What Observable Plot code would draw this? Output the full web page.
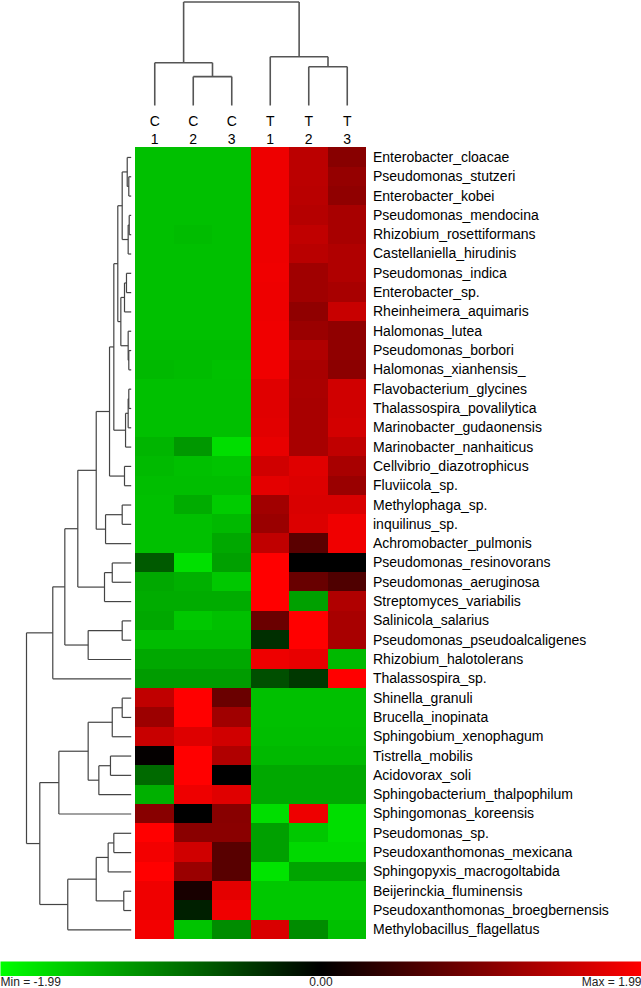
<!DOCTYPE html>
<html><head><meta charset="utf-8">
<script src="https://cdn.jsdelivr.net/npm/d3@7"></script>
<script src="https://cdn.jsdelivr.net/npm/@observablehq/plot@0.6"></script>
<style>
html,body{margin:0;padding:0;background:#fff;}
#chart{position:relative;width:641px;height:988px;overflow:hidden;font-family:"Liberation Sans",Arial,Helvetica,sans-serif;background:#fff;}
#chart svg{position:absolute;left:0;top:0;}
</style></head><body><div id="chart"></div>
<script>
// ---- data ----
const columns = ["C1","C2","C3","T1","T2","T3"];
const columnLabels = ["C\n1","C\n2","C\n3","T\n1","T\n2","T\n3"];
const taxa = ["Enterobacter_cloacae","Pseudomonas_stutzeri","Enterobacter_kobei","Pseudomonas_mendocina","Rhizobium_rosettiformans","Castellaniella_hirudinis","Pseudomonas_indica","Enterobacter_sp.","Rheinheimera_aquimaris","Halomonas_lutea","Pseudomonas_borbori","Halomonas_xianhensis_","Flavobacterium_glycines","Thalassospira_povalilytica","Marinobacter_gudaonensis","Marinobacter_nanhaiticus","Cellvibrio_diazotrophicus","Fluviicola_sp.","Methylophaga_sp.","inquilinus_sp.","Achromobacter_pulmonis","Pseudomonas_resinovorans","Pseudomonas_aeruginosa","Streptomyces_variabilis","Salinicola_salarius","Pseudomonas_pseudoalcaligenes","Rhizobium_halotolerans","Thalassospira_sp.","Shinella_granuli","Brucella_inopinata","Sphingobium_xenophagum","Tistrella_mobilis","Acidovorax_soli","Sphingobacterium_thalpophilum","Sphingomonas_koreensis","Pseudomonas_sp.","Pseudoxanthomonas_mexicana","Sphingopyxis_macrogoltabida","Beijerinckia_fluminensis","Pseudoxanthomonas_broegbernensis","Methylobacillus_flagellatus"];
const C1 = [-1.50,-1.50,-1.50,-1.50,-1.50,-1.50,-1.50,-1.50,-1.50,-1.50,-1.47,-1.44,-1.50,-1.50,-1.50,-1.41,-1.45,-1.48,-1.50,-1.50,-1.50,-0.70,-1.31,-1.34,-1.31,-1.47,-1.31,-1.22,1.50,1.22,1.56,0.03,-0.83,-1.37,1.06,1.99,1.90,1.99,1.87,1.86,1.90];
const C2 = [-1.50,-1.50,-1.50,-1.50,-1.47,-1.50,-1.50,-1.50,-1.50,-1.50,-1.47,-1.47,-1.50,-1.50,-1.50,-1.19,-1.50,-1.48,-1.34,-1.50,-1.50,-1.75,-1.37,-1.34,-1.56,-1.47,-1.31,-1.22,1.99,1.99,1.73,1.99,1.99,1.86,0.00,1.08,1.62,1.20,0.19,-0.25,-1.53];
const C3 = [-1.50,-1.50,-1.50,-1.50,-1.50,-1.50,-1.50,-1.50,-1.50,-1.50,-1.47,-1.51,-1.50,-1.50,-1.50,-1.73,-1.53,-1.48,-1.59,-1.44,-1.31,-1.25,-1.56,-1.34,-1.50,-1.47,-1.31,-1.22,0.83,1.25,1.62,1.37,0.00,1.75,1.06,1.08,0.69,0.69,1.78,1.87,-1.09];
const T1 = [1.86,1.86,1.86,1.86,1.86,1.86,1.87,1.86,1.86,1.87,1.87,1.87,1.75,1.75,1.76,1.81,1.62,1.78,1.26,1.20,1.50,1.99,1.99,1.99,0.83,-0.37,1.86,-0.62,-1.50,-1.50,-1.48,-1.44,-1.31,-1.31,-1.73,-1.25,-1.25,-1.78,-1.56,-1.56,1.69];
const T2 = [1.46,1.46,1.44,1.41,1.50,1.44,1.25,1.25,1.12,1.20,1.37,1.31,1.33,1.31,1.31,1.31,1.75,1.72,1.69,1.72,0.70,0.00,0.81,-1.25,1.99,1.99,1.81,-0.44,-1.50,-1.50,-1.48,-1.44,-1.31,-1.31,1.86,-1.56,-1.69,-1.28,-1.56,-1.56,-1.09];
const T3 = [1.06,1.16,1.12,1.31,1.31,1.37,1.37,1.31,1.56,1.12,1.12,1.09,1.62,1.62,1.65,1.50,1.31,1.20,1.69,1.87,1.87,0.00,0.62,1.37,1.31,1.31,-1.44,1.99,-1.50,-1.50,-1.48,-1.44,-1.31,-1.31,-1.73,-1.73,-1.69,-1.28,-1.56,-1.56,-1.50];
const series = {C1, C2, C3, T1, T2, T3};

// dendrogram merges: [node, childA, childB, height] (numbers = leaf index)
const rowMerges = [
  ["A",1,2,0.023],["B",0,"A",0.038],["C",3,4,0.019],["D","C",5,0.029],["E","B","D",0.086],
  ["F",6,7,0.045],["G","F",8,0.064],["H",10,11,0.023],["I",9,"H",0.029],["J","G","I",0.099],
  ["K","E","J",0.128],["L",12,13,0.023],["M","L",14,0.029],["N","M",15,0.054],["O","K","N",0.166],
  ["P",16,17,0.064],["Q","O","P",0.207],["R",18,19,0.086],["S","R",20,0.245],["T","Q","S",0.334],
  ["U",21,22,0.181],["V","U",23,0.255],["W","T","V",0.510],["X",24,25,0.086],["Y","X",26,0.411],
  ["Z","W","Y",0.634],["AA","Z",27,0.749],
  ["BB",28,29,0.086],["CC","BB",30,0.181],["DD",31,32,0.198],["EE","DD",33,0.309],["FF","CC","EE",0.411],
  ["GG","FF",34,0.691],["HH",35,36,0.166],["II","HH",37,0.220],["JJ",38,39,0.071],["KK","II","JJ",0.334],
  ["LL","KK",40,0.606],["MM","GG","LL",0.873],["root","AA","MM",1.0]
];
const colMerges = [["a",1,2,0.279],["b",0,"a",0.413],["c",4,5,0.375],["d",3,"c",0.471],["root","b","d",1.0]];

const legendTicks = [-1.99, 0, 1.99];
const legendLabels = ["Min = -1.99", "0.00", "Max = 1.99"];
const legendAnchors = ["start", "middle", "end"];

// ---- helpers ----
function dendroSegments(merges) {
  const nodes = new Map(), segs = [];
  const pos = c => typeof c === "number" ? c : nodes.get(c).pos;
  const ht = c => typeof c === "number" ? 0 : nodes.get(c).h;
  for (const [name, a, b, h] of merges) {
    const pa = pos(a), pb = pos(b);
    segs.push({p1: pa, p2: pb, h1: h, h2: h});
    segs.push({p1: pa, p2: pa, h1: ht(a), h2: h});
    segs.push({p1: pb, p2: pb, h1: ht(b), h2: h});
    nodes.set(name, {pos: (pa + pb) / 2, h});
  }
  return segs;
}
const cells = taxa.flatMap((t, i) => columns.map((c, j) => ({row: i, col: j, value: series[c][i]})));
const colorScale = {type: "linear", domain: [-1.99, 0, 1.99], range: ["#00ff00", "#000000", "#ff0000"], interpolate: "rgb"};
const svgStyle = {background: "transparent", overflow: "visible", fontFamily: '"Liberation Sans", Arial, sans-serif'};
const W = 641, H = 988;
const heatX = [135, 366], heatY = [147.3, 939];
const chart = document.getElementById("chart");

// heatmap + labels
chart.append(Plot.plot({
  width: W, height: H, margin: 0, style: svgStyle,
  x: {type: "linear", domain: [-0.5, columns.length - 0.5], range: heatX, axis: null},
  y: {type: "linear", domain: [-0.5, taxa.length - 0.5], range: heatY, axis: null},
  color: colorScale,
  marks: [
    Plot.rect(cells, {x1: d => d.col - 0.5, x2: d => d.col + 0.5, y1: d => d.row - 0.5, y2: d => d.row + 0.5, fill: "value", shapeRendering: "crispEdges"}),
    Plot.text(taxa, {x: () => columns.length - 0.5, y: (d, i) => i, text: d => d, textAnchor: "start", dx: 6.5, fontSize: 14, fill: "#000"}),
    Plot.text(columnLabels, {x: (d, i) => i, y: () => -0.5, text: d => d, dy: -18.5, lineHeight: 1.3, fontSize: 14, fill: "#000"})
  ]
}));

// top dendrogram
chart.append(Plot.plot({
  width: W, height: H, margin: 0, style: svgStyle,
  x: {type: "linear", domain: [-0.5, columns.length - 0.5], range: heatX, axis: null},
  y: {type: "linear", domain: [0, 1], range: [105, 1.5], axis: null},
  marks: [
    Plot.link(dendroSegments(colMerges), {x1: "p1", x2: "p2", y1: "h1", y2: "h2", stroke: "#555", strokeWidth: 1.6})
  ]
}));

// left dendrogram
chart.append(Plot.plot({
  width: W, height: H, margin: 0, style: svgStyle,
  x: {type: "linear", domain: [0, 1], range: [130.7, 26], axis: null},
  y: {type: "linear", domain: [-0.5, taxa.length - 0.5], range: heatY, axis: null},
  marks: [
    Plot.link(dendroSegments(rowMerges), {x1: "h1", x2: "h2", y1: "p1", y2: "p2", stroke: "#444", strokeWidth: 1.2})
  ]
}));

// colour bar
chart.append(Plot.plot({
  width: W, height: H, margin: 0, style: svgStyle,
  x: {type: "linear", domain: [-1.99, 1.99], range: [0, W], axis: null},
  y: {type: "linear", domain: [0, 1], range: [961, 975.5], axis: null},
  color: colorScale,
  marks: [
    Plot.raster({x1: -1.99, x2: 1.99, y1: 0, y2: 1, width: 641, height: 1, fill: (x, y) => x, imageRendering: "auto"}),
    ...legendLabels.map((label, i) => Plot.text([label], {x: () => legendTicks[i], y: () => 1, text: d => d, textAnchor: legendAnchors[i], lineAnchor: "top", dy: 1, fontSize: 12, fill: "#222"}))
  ]
}));
</script></body></html>
